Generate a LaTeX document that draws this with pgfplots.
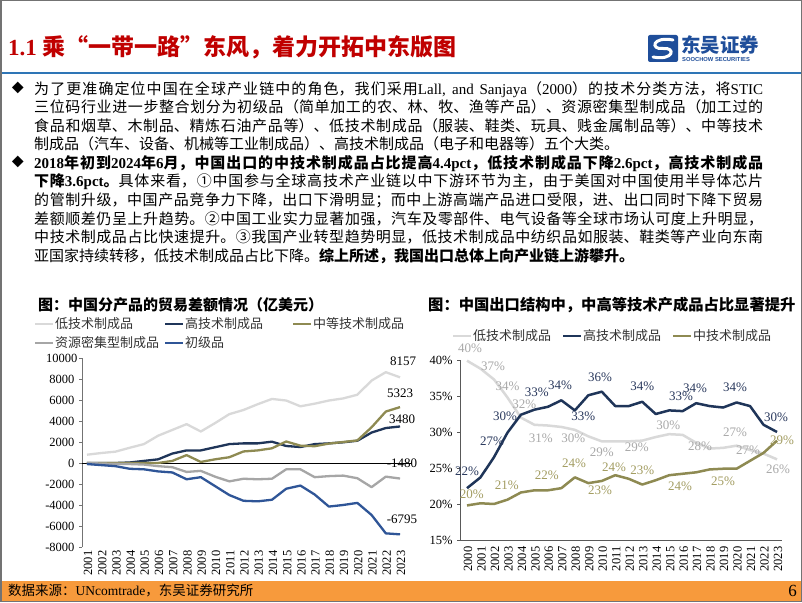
\documentclass[border=0pt]{standalone}
\usepackage{fontspec}
\usepackage{pgfplots}
\usepackage{pgfplotstable}
\pgfplotsset{compat=1.18}
\setmainfont{Noto Sans CJK SC}
\newfontfamily\lat{Liberation Serif}
\newfontfamily\lsans{Liberation Sans}
\XeTeXlinebreaklocale "zh"
\XeTeXlinebreakskip=0pt plus 1pt
\newcommand{\fs}[1]{\fontsize{#1}{#1}\selectfont}
\definecolor{lowc}{HTML}{D9D9D9}
\definecolor{highc}{HTML}{1F3559}
\definecolor{midc}{HTML}{8E8A52}
\definecolor{resc}{HTML}{A6A6A6}
\definecolor{prim}{HTML}{2F5597}
\definecolor{lowl}{HTML}{A9A9A9}
\definecolor{highl}{HTML}{2B3A5E}
\definecolor{midl}{HTML}{A39D62}
\definecolor{titlered}{HTML}{C00000}
\definecolor{barblue}{HTML}{2E75B6}
\definecolor{footor}{HTML}{F79A3C}
\definecolor{logoblue}{HTML}{1F4E9A}

\pgfplotstableread{
year low high mid res prim
2001 790 0 0 0 -100
2002 950 0 0 -50 -200
2003 1080 0 0 -80 -300
2004 1450 50 0 -100 -550
2005 1800 200 0 -150 -600
2006 2600 350 0 -300 -800
2007 3150 900 200 -400 -900
2008 3700 1200 750 -850 -1550
2009 3000 1200 100 -750 -1350
2010 3800 1500 350 -1300 -2200
2011 4650 1800 550 -1750 -3050
2012 5050 1870 1100 -1500 -3600
2013 5600 1870 1200 -1550 -3650
2014 6100 2030 1400 -1500 -3500
2015 5950 1620 2050 -600 -2450
2016 5400 1520 1650 -600 -2150
2017 5650 1800 1600 -1350 -3000
2018 5950 1870 1850 -1250 -4150
2019 6150 1970 2000 -1200 -4000
2020 6500 2120 2150 -1450 -3800
2021 7850 2900 3400 -2300 -4950
2022 8650 3330 4900 -1300 -6700
2023 8157 3480 5323 -1480 -6795
}\trade

\pgfplotstableread{
year val lab dx dy
2023 8157 8157 3 16.4
2023 5323 5323 0 14
2023 3480 3480 2 7.5
2023 -1480 -1480 2 15.5
2023 -6795 -6795 2 15.3
}\tradelab

\pgfplotstableread{
year low high mid
2000 39.9 22.2 19.8
2001 38.8 23.7 20.1
2002 37.3 26.5 20.0
2003 34.8 29.9 20.6
2004 32.0 32.4 21.6
2005 31.0 33.1 21.9
2006 30.9 33.5 21.9
2007 30.7 34.4 22.2
2008 30.3 33.0 23.7
2009 29.4 35.1 22.9
2010 28.7 35.6 23.2
2011 28.7 33.6 24.0
2012 28.7 33.6 23.5
2013 28.8 34.2 22.7
2014 29.3 32.5 23.3
2015 29.7 33.0 24.0
2016 29.6 32.9 24.2
2017 28.5 34.0 24.4
2018 27.7 33.6 24.8
2019 27.8 33.4 24.9
2020 28.1 34.1 24.9
2021 27.5 33.6 26.0
2022 27.0 31.0 27.1
2023 26.2 30.0 28.8
}\share

\pgfplotstableread{
year val lab dx dy
2000 39.9 40 3 12.7
2002 37.3 37 -1 13.4
2003 34.8 34 0 10.7
2004 32.0 32 3.4 13.6
2005 31.0 31 6.3 -13.5
2008 30.3 30 -1.5 -8.5
2010 28.7 29 0 -11.3
2013 28.8 29 -5.5 -6.7
2015 29.7 30 -1 8.5
2017 28.5 28 4 -3
2020 28.1 27 -1.6 13
2021 27.5 27 -2 0
2023 26.2 26 1 -10
}\lowlab

\pgfplotstableread{
year val lab dx dy
2000 22.2 22 0 17
2002 26.5 27 -2 16
2003 29.9 30 -2.4 16.7
2005 33.1 33 2.3 17
2007 34.4 34 -1.3 15.3
2008 33.0 33 8.5 -5.6
2010 35.6 36 -1.8 14.4
2013 34.2 34 0 15
2016 32.9 33 -1.6 15
2017 34.0 34 -1 14.5
2020 34.1 34 -1.6 15
2023 30.0 30 -1 14.7
}\highlab

\pgfplotstableread{
year val lab dx dy
2000 19.8 20 4.7 11
2003 20.6 21 -0.7 14.7
2006 21.9 22 -1.2 14.6
2008 23.7 24 -0.8 14
2010 23.2 23 -1.8 -9
2011 24.0 24 -1.3 8
2013 22.7 23 0 14.6
2016 24.2 24 -2.6 -13
2019 24.9 25 0 -13
2023 28.8 29 5 0
}\midlab

\pgfplotsset{
  labplot/.style={draw=none, mark=none, nodes near coords={\pgfplotspointmeta#1},
    point meta=explicit symbolic,
    visualization depends on={\thisrow{dx}\as\ldx},
    visualization depends on={\thisrow{dy}\as\ldy},
    nodes near coords style={anchor=center, xshift=\ldx pt, yshift=\ldy pt, inner sep=0pt, font=\lat\fs{13}}},
}

\begin{document}
\begin{tikzpicture}
\useasboundingbox (0pt,0pt) rectangle (802pt,602pt);
\fill[white] (0pt,0pt) rectangle (802pt,602pt);

% title
\node[anchor=west, inner sep=0pt, text=titlered, font=\bfseries\fs{23}] at (8pt,555pt)
  {{\lat 1.1} 乘\makebox[1em][r]{“}一带一路\makebox[1em][l]{”}东风，着力开拓中东版图};
\draw[barblue, line width=2pt] (0pt,529pt) -- (802pt,529pt);

% logo
\fill[logoblue, rounded corners=2pt] (648pt,540pt) rectangle (678pt,567pt);
\draw[white, line width=3pt, line cap=round] (673pt,562pt) .. controls (652pt,566pt) and (650pt,552pt) .. (663pt,553.5pt) .. controls (676pt,555pt) and (674pt,541pt) .. (653pt,545pt);
\node[anchor=west, inner sep=0pt, text=logoblue, font=\bfseries\fs{19.5}] at (681pt,557pt) {东吴证券};
\node[anchor=west, inner sep=0pt, text=logoblue, font=\lsans\bfseries\fs{5.8}] at (682pt,542pt) {SOOCHOW SECURITIES};

% bullets
\node[inner sep=0pt, font=\fs{12}] at (18pt,514pt) {◆};
\node[inner sep=0pt, font=\fs{12}] at (18pt,440pt) {◆};
\node[anchor=north west, inner sep=0pt, text width=729pt, align=justify, font=\fontsize{15}{18.6}\selectfont] at (34pt,521pt)
{为了更准确定位中国在全球产业链中的角色，我们采用{\lat Lall, and Sanjaya}（{\lat 2000}）的技术分类方法，将{\lat STIC}\linebreak
三位码行业进一步整合划分为初级品（简单加工的农、林、牧、渔等产品）、资源密集型制成品（加工过的\linebreak
食品和烟草、木制品、精炼石油产品等）、低技术制成品（服装、鞋类、玩具、贱金属制品等）、中等技术\linebreak
制成品（汽车、设备、机械等工业制成品）、高技术制成品（电子和电器等）五个大类。};
\node[anchor=north west, inner sep=0pt, text width=729pt, align=justify, font=\fontsize{15}{18.6}\selectfont] at (34pt,447pt)
{{\bfseries {\lat 2018}年初到{\lat 2024}年{\lat 6}月，中国出口的中技术制成品占比提高{\lat 4.4pct}，低技术制成品下降{\lat 2.6pct}，高技术制成品\linebreak
下降{\lat 3.6pct}。}具体来看，①中国参与全球高技术产业链以中下游环节为主，由于美国对中国使用半导体芯片\linebreak
的管制升级，中国产品竞争力下降，出口下滑明显；而中上游高端产品进口受限，进、出口同时下降下贸易\linebreak
差额顺差仍呈上升趋势。②中国工业实力显著加强，汽车及零部件、电气设备等全球市场认可度上升明显，\linebreak
中技术制成品占比快速提升。③我国产业转型趋势明显，低技术制成品中纺织品如服装、鞋类等产业向东南\linebreak
亚国家持续转移，低技术制成品占比下降。{\bfseries 综上所述，我国出口总体上向产业链上游攀升。}};

% chart titles
\node[anchor=west, inner sep=0pt, font=\bfseries\fs{15}] at (38pt,297pt) {图：中国分产品的贸易差额情况（亿美元）};
\node[anchor=west, inner sep=0pt, font=\bfseries\fs{15.3}] at (428pt,297pt) {图：中国出口结构中，中高等技术产成品占比显著提升};

% left legend
\foreach \xx/\yy/\cc/\lbl in {35/278/lowc/低技术制成品, 165/278/highc/高技术制成品, 293/278/midc/中等技术制成品, 35/259/resc/资源密集型制成品, 165/259/prim/初级品}{
  \draw[\cc, line width=2.3pt] (\xx pt,\yy pt) -- ++(18pt,0pt);
  \node[anchor=west, inner sep=0pt, font=\fs{13}, text=black!80] at ([xshift=20pt]\xx pt,\yy pt) {\lbl};
}
% right legend
\foreach \xx/\cc/\lbl in {453/lowc/低技术制成品, 563/highc/高技术制成品, 673/midc/中技术制成品}{
  \draw[\cc, line width=2.3pt] (\xx pt,266pt) -- ++(18pt,0pt);
  \node[anchor=west, inner sep=0pt, font=\fs{13}, text=black!80] at ([xshift=20pt]\xx pt,266pt) {\lbl};
}

% left chart
\begin{axis}[
  at={(82pt,55pt)}, anchor=south west,
  scale only axis, width=328.7pt, height=189pt,
  xmin=2000.65, xmax=2023.75, ymin=-8000, ymax=10000,
  scaled ticks=false,
  axis x line=none,
  axis y line*=left,
  y axis line style={draw=black!55, line width=0.8pt},
  ytick={-8000,-6000,-4000,-2000,0,2000,4000,6000,8000},
  yticklabels={-8000,-6000,-4000,-2000,0,2000,4000,6000,8000},
  ytick style={draw=black!55, line width=0.8pt},
  tick align=outside, major tick length=3pt,
  yticklabel style={font=\lat\fs{12.5}, xshift=-1pt},
  clip=false,
]
\draw[black, line width=0.8pt] (axis cs:2000.65,0) -- (axis cs:2023.75,0);
\draw[black!55, line width=0.8pt] (axis cs:2000.65,10000) -- ++(-3pt,0pt);
\node[anchor=east, font=\lat\fs{12.5}] at ([xshift=-1pt]axis cs:2000.65,10000) {10000};
\addplot[lowc, line width=2.3pt, line join=round] table[x=year,y=low]{\trade};
\addplot[highc, line width=2.3pt, line join=round] table[x=year,y=high]{\trade};
\addplot[midc, line width=2.3pt, line join=round] table[x=year,y=mid]{\trade};
\addplot[resc, line width=2.3pt, line join=round] table[x=year,y=res]{\trade};
\addplot[prim, line width=2.3pt, line join=round] table[x=year,y=prim]{\trade};
\addplot[labplot={}, nodes near coords style={text=black}] table[x=year,y=val,meta=lab]{\tradelab};
\end{axis}
% left chart year labels (separate axis sharing the same x range)
\begin{axis}[
  at={(82pt,55pt)}, anchor=south west,
  scale only axis, width=328.7pt, height=189pt,
  xmin=2000.65, xmax=2023.75, ymin=0, ymax=1,
  axis y line=none, axis x line*=bottom,
  x axis line style={draw=none},
  xtick={2001,2002,...,2023},
  xticklabels={2001,2002,2003,2004,2005,2006,2007,2008,2009,2010,2011,2012,2013,2014,2015,2016,2017,2018,2019,2020,2021,2022,2023},
  xtick style={draw=none},
  xticklabel style={rotate=90, anchor=east, font=\lat\fs{12.5}, yshift=-1pt},
]
\end{axis}

% right chart
\begin{axis}[
  at={(460pt,62pt)}, anchor=south west,
  scale only axis, width=322pt, height=180pt,
  xmin=1999.48, xmax=2023.37, ymin=15, ymax=40,
  scaled ticks=false,
  axis lines*=left,
  axis line style={draw=black!65, line width=0.9pt},
  xtick={2000,2001,...,2023},
  xticklabels={2000,2001,2002,2003,2004,2005,2006,2007,2008,2009,2010,2011,2012,2013,2014,2015,2016,2017,2018,2019,2020,2021,2022,2023},
  xtick style={draw=none},
  xticklabel style={rotate=90, anchor=east, font=\lat\fs{12.5}, yshift=-1pt},
  ytick={15,20,...,40},
  yticklabels={15\%,20\%,25\%,30\%,35\%,40\%},
  ytick style={draw=black!65, line width=0.8pt},
  tick align=outside, major tick length=3pt,
  yticklabel style={font=\lat\fs{12.5}, xshift=-1pt},
  clip=false,
]
\addplot[lowc, line width=2.5pt, line join=round] table[x=year,y=low]{\share};
\addplot[highc, line width=2.5pt, line join=round] table[x=year,y=high]{\share};
\addplot[midc, line width=2.5pt, line join=round] table[x=year,y=mid]{\share};
\addplot[labplot={\%}, nodes near coords style={text=lowl}] table[x=year,y=val,meta=lab]{\lowlab};
\addplot[labplot={\%}, nodes near coords style={text=highl}] table[x=year,y=val,meta=lab]{\highlab};
\addplot[labplot={\%}, nodes near coords style={text=midl}] table[x=year,y=val,meta=lab]{\midlab};
\end{axis}

% footer
\fill[footor] (0pt,0pt) rectangle (802pt,21pt);
\node[anchor=west, inner sep=0pt, font=\fs{13.5}] at (8pt,11pt) {数据来源：{\lat UNcomtrade}，东吴证券研究所};
\node[anchor=east, inner sep=0pt, font=\lat\fs{17}] at (797pt,11pt) {6};
\draw[black!55, line width=1.5pt] (0.75pt,0.75pt) rectangle (801.25pt,601.25pt);
\end{tikzpicture}
\end{document}
